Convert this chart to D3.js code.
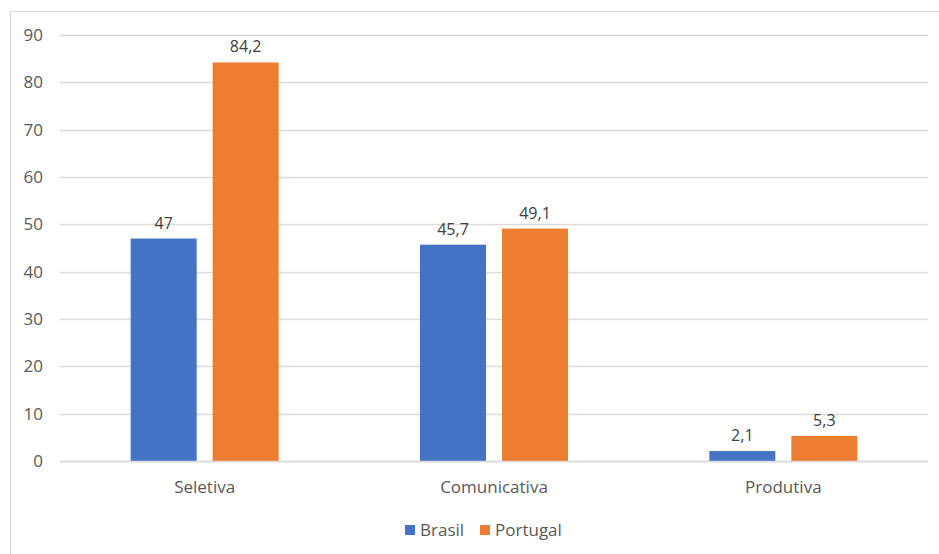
<!DOCTYPE html>
<html>
<head>
<meta charset="utf-8">
<script src="https://cdn.jsdelivr.net/npm/d3@7"></script>
<style>
  html, body { margin: 0; padding: 0; background: #fff; }
  svg { display: block; }
  text { font-family: "Open Sans", "Noto Sans", sans-serif; }
</style>
</head>
<body>
<svg id="chart" width="939" height="554"></svg>
<script>
// Chart data
const categories = ["Seletiva", "Comunicativa", "Produtiva"];
const seriesNames = ["Brasil", "Portugal"];
const brasilValues = [47, 45.7, 2.1];
const portugalValues = [84.2, 49.1, 5.3];
const yTicks = [0, 10, 20, 30, 40, 50, 60, 70, 80, 90];
const seriesColors = ["#4472C4", "#ED7D31"];

const rows = categories.map((c, i) => ({
  category: c,
  values: [brasilValues[i], portugalValues[i]]
}));

const svg = d3.select("#chart");
const W = 939, H = 554;
const margin = { left: 60, right: 11, top: 35, bottom: 93 };

// Outer chart frame
svg.append("rect")
  .attr("x", 10.5).attr("y", 11.5)
  .attr("width", W + 10).attr("height", H)
  .attr("fill", "#fff").attr("stroke", "#d9d9d9").attr("stroke-width", 1);

const x = d3.scaleBand()
  .domain(categories)
  .range([margin.left, W - margin.right]);

// Two bars per cluster, with a gap between them
const xInner = d3.scaleBand()
  .domain(seriesNames)
  .range([0, 148])
  .paddingInner(0.195);

const y = d3.scaleLinear()
  .domain([0, 90])
  .range([H - margin.bottom, margin.top]);

// Gridlines
svg.append("g")
  .selectAll("line")
  .data(yTicks)
  .join("line")
  .attr("x1", margin.left).attr("x2", W - margin.right)
  .attr("y1", d => Math.round(y(d)) + 0.5)
  .attr("y2", d => Math.round(y(d)) + 0.5)
  .attr("stroke", "#d9d9d9").attr("stroke-width", 1.5);

// Y axis labels
const yAxis = d3.axisLeft(y).tickValues(yTicks).tickSize(0).tickPadding(0);
const yg = svg.append("g")
  .attr("transform", `translate(${margin.left - 17},0)`)
  .call(yAxis);
yg.select(".domain").remove();
yg.selectAll("text")
  .attr("font-size", 17).attr("fill", "#595959")
  .attr("font-family", "'Open Sans', sans-serif");

// Bars
const groups = svg.append("g")
  .selectAll("g")
  .data(rows)
  .join("g")
  .attr("transform", d => `translate(${x(d.category) + x.bandwidth() / 2 - 74},0)`);

groups.selectAll("rect")
  .data(d => d.values.map((v, i) => ({ name: seriesNames[i], value: v, i })))
  .join("rect")
  .attr("x", d => xInner(d.name))
  .attr("width", xInner.bandwidth())
  .attr("y", d => y(d.value))
  .attr("height", d => y(0) - y(d.value))
  .attr("fill", d => seriesColors[d.i]);

// Value labels
groups.selectAll("text.val")
  .data(d => d.values.map((v, i) => ({ name: seriesNames[i], value: v, i })))
  .join("text")
  .attr("class", "val")
  .attr("x", d => xInner(d.name) + xInner.bandwidth() / 2)
  .attr("y", d => y(d.value) - 10)
  .attr("text-anchor", "middle")
  .attr("font-size", 16).attr("fill", "#404040")
  .text(d => String(d.value).replace(".", ","));

// Baseline
svg.append("line")
  .attr("x1", margin.left).attr("x2", W - margin.right)
  .attr("y1", Math.round(y(0)) + 0.5).attr("y2", Math.round(y(0)) + 0.5)
  .attr("stroke", "#d9d9d9").attr("stroke-width", 1.5);

// Category labels
const xAxis = d3.axisBottom(x).tickSize(0).tickPadding(0);
const xg = svg.append("g")
  .attr("transform", `translate(0,${y(0) + 20})`)
  .call(xAxis);
xg.select(".domain").remove();
xg.selectAll("text")
  .attr("font-size", 17).attr("fill", "#595959")
  .attr("font-family", "'Open Sans', sans-serif");

// Legend
const legend = svg.append("g").attr("transform", "translate(405,530)");
const legendOffsets = [0, 75];
seriesNames.forEach((name, i) => {
  const g = legend.append("g").attr("transform", `translate(${legendOffsets[i]},0)`);
  g.append("rect").attr("x", 0).attr("y", -5).attr("width", 10).attr("height", 10)
    .attr("fill", seriesColors[i]);
  g.append("text").attr("x", 15).attr("y", 0).attr("dy", "0.35em")
    .attr("font-size", 17).attr("fill", "#595959").text(name);
});
</script>
</body>
</html>
